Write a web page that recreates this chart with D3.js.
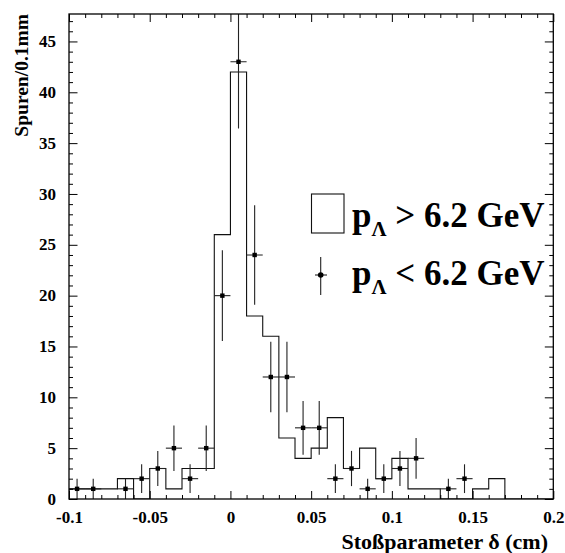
<!DOCTYPE html>
<html>
<head>
<meta charset="utf-8">
<script src="https://cdn.jsdelivr.net/npm/d3@7"></script>
<style>
  html, body { margin: 0; padding: 0; background: #fff; }
  svg { display: block; }
</style>
</head>
<body>
<svg id="chart" width="565" height="553"></svg>
<script>
// Impact-parameter bins (lower edges, cm); every bin is 0.01 cm = 0.1 mm wide
const binStart = [-0.10, -0.09, -0.08, -0.07, -0.06, -0.05, -0.04, -0.03, -0.02, -0.01,
                   0.00,  0.01,  0.02,  0.03,  0.04,  0.05,  0.06,  0.07,  0.08,  0.09,
                   0.10,  0.11,  0.12,  0.13,  0.14,  0.15,  0.16,  0.17,  0.18,  0.19];
const binWidth = 0.01;

// Track counts per bin, p_Lambda > 6.2 GeV (open histogram)
const highMomentum = [1, 1, 1, 2, 0, 3, 1, 3, 3, 26,
                      42, 18, 16, 6, 4, 5, 8, 3, 5, 2,
                      4, 1, 1, 0, 0, 1, 2, 0, 0, 0];

// Track counts per bin, p_Lambda < 6.2 GeV (points with sqrt(N) errors)
const lowMomentum = [1, 1, 0, 1, 2, 3, 5, 2, 5, 20,
                     43, 24, 12, 12, 7, 7, 2, 3, 1, 2,
                     3, 4, 0, 1, 2, 0, 0, 0, 0, 0];

const xTickLabels = [-0.1, -0.05, 0, 0.05, 0.1, 0.15, 0.2];
const yTickLabels = [0, 5, 10, 15, 20, 25, 30, 35, 40, 45];

const svg = d3.select("#chart");
const plotL = 69, plotR = 553.3, plotT = 14, plotB = 499;
const SERIF = "Liberation Serif";

const x = d3.scaleLinear().domain([-0.1, 0.2]).range([plotL, plotR]);
const y = d3.scaleLinear().domain([0, 47.7]).range([plotB, plotT]);

svg.append("defs").append("clipPath").attr("id", "plotClip")
  .append("rect").attr("x", plotL).attr("y", plotT)
  .attr("width", plotR - plotL).attr("height", plotB - plotT);

const plot = svg.append("g").attr("clip-path", "url(#plotClip)");

// Step outline of the high-momentum histogram
const stepPts = [[binStart[0], 0]];
binStart.forEach((b, i) => {
  stepPts.push([b, highMomentum[i]]);
  stepPts.push([b + binWidth, highMomentum[i]]);
});
stepPts.push([binStart[binStart.length - 1] + binWidth, 0]);

plot.append("path")
  .attr("d", d3.line().x(d => x(d[0])).y(d => y(d[1]))(stepPts))
  .attr("fill", "none")
  .attr("stroke", "#111")
  .attr("stroke-width", 1.1);

// Low-momentum points with error bars
const pts = binStart.map((b, i) => ({ c: b + binWidth / 2, n: lowMomentum[i] }))
  .filter(d => d.n > 0);

const pg = plot.append("g").attr("stroke", "#222").attr("stroke-width", 1.1);
pg.selectAll("line.v").data(pts).join("line").attr("class", "v")
  .attr("x1", d => x(d.c)).attr("x2", d => x(d.c))
  .attr("y1", d => y(d.n + Math.sqrt(d.n))).attr("y2", d => y(d.n - Math.sqrt(d.n)));
pg.selectAll("line.h").data(pts).join("line").attr("class", "h")
  .attr("x1", d => x(d.c - binWidth / 2)).attr("x2", d => x(d.c + binWidth / 2))
  .attr("y1", d => y(d.n)).attr("y2", d => y(d.n));
plot.selectAll("rect.pt").data(pts).join("rect").attr("class", "pt")
  .attr("x", d => x(d.c) - 2.2).attr("y", d => y(d.n) - 2.2)
  .attr("width", 4.4).attr("height", 4.4).attr("fill", "#000");

// Axis ticks on all four sides, pointing inward
const xMinor = binStart.concat([0.2]).filter(v => Math.abs(Math.round(v * 100) % 5) !== 0);
const xMajor = xTickLabels;
const yMinor = d3.range(1, 48).filter(v => v % 5 !== 0);
const yMajor = yTickLabels;

function tickAxis(gen, tr, vals, len) {
  const g = svg.append("g").attr("transform", tr)
    .call(gen.tickValues(vals).tickSize(-len).tickFormat(""));
  g.select(".domain").remove();
  g.selectAll("line").attr("stroke", "#000").attr("stroke-width", 1);
  return g;
}
tickAxis(d3.axisBottom(x), `translate(0,${plotB})`, xMinor, 4);
tickAxis(d3.axisBottom(x), `translate(0,${plotB})`, xMajor, 8);
tickAxis(d3.axisTop(x), `translate(0,${plotT})`, xMinor, 4);
tickAxis(d3.axisTop(x), `translate(0,${plotT})`, xMajor, 8);
tickAxis(d3.axisLeft(y), `translate(${plotL},0)`, yMinor, 4);
tickAxis(d3.axisLeft(y), `translate(${plotL},0)`, yMajor, 8.5);
tickAxis(d3.axisRight(y), `translate(${plotR},0)`, yMinor, 4);
tickAxis(d3.axisRight(y), `translate(${plotR},0)`, yMajor, 8.5);

// Frame
svg.append("rect")
  .attr("x", plotL).attr("y", plotT)
  .attr("width", plotR - plotL).attr("height", plotB - plotT)
  .attr("fill", "none").attr("stroke", "#000").attr("stroke-width", 1.3);

// Tick labels
const fmt = v => (v === 0 ? "0" : String(+v.toFixed(2)));
function styleLabels(g) {
  g.select(".domain").remove();
  g.attr("font-family", SERIF).attr("font-size", 17);
  g.selectAll("text")
    .attr("font-family", SERIF).attr("font-size", 17)
    .attr("font-weight", "bold").attr("fill", "#000");
}
const gy = svg.append("g").attr("transform", `translate(${plotL},0)`)
  .call(d3.axisLeft(y).tickValues(yTickLabels).tickSize(0).tickPadding(13).tickFormat(fmt));
styleLabels(gy);
gy.selectAll("text").attr("dy", "0.3em");

const gx = svg.append("g").attr("transform", `translate(0,${plotB})`)
  .call(d3.axisBottom(x).tickValues(xTickLabels).tickSize(0).tickPadding(12).tickFormat(fmt));
styleLabels(gx);

// Axis titles
svg.append("text")
  .attr("x", 548).attr("y", 549)
  .attr("text-anchor", "end")
  .attr("font-family", SERIF).attr("font-weight", "bold")
  .attr("font-size", 22)
  .text("Stoßparameter δ (cm)");

svg.append("text")
  .attr("transform", "translate(28,14) rotate(-90)")
  .attr("text-anchor", "end")
  .attr("font-family", SERIF).attr("font-weight", "bold")
  .attr("font-size", 19.5)
  .text("Spuren/0.1mm");

// Legend
const leg = svg.append("g");
leg.append("rect")
  .attr("x", 311.5).attr("y", 194).attr("width", 32.5).attr("height", 39)
  .attr("fill", "none").attr("stroke", "#111").attr("stroke-width", 1.1);

function legendLabel(yBase, rel) {
  const t = leg.append("text").attr("x", 352).attr("y", yBase)
    .attr("font-family", SERIF).attr("font-weight", "bold").attr("font-size", 35);
  t.append("tspan").text("p");
  t.append("tspan").attr("font-size", 21).attr("dy", 9).text("Λ");
  t.append("tspan").attr("dy", -9).text(" " + rel + " 6.2 GeV");
}
legendLabel(227, ">");

leg.append("line").attr("x1", 320.7).attr("x2", 320.7).attr("y1", 257).attr("y2", 295)
  .attr("stroke", "#222").attr("stroke-width", 1.1);
leg.append("line").attr("x1", 315).attr("x2", 327).attr("y1", 275).attr("y2", 275)
  .attr("stroke", "#222").attr("stroke-width", 1.1);
leg.append("circle").attr("cx", 320.7).attr("cy", 275).attr("r", 2.8).attr("fill", "#000");
legendLabel(285, "<");
</script>
</body>
</html>
